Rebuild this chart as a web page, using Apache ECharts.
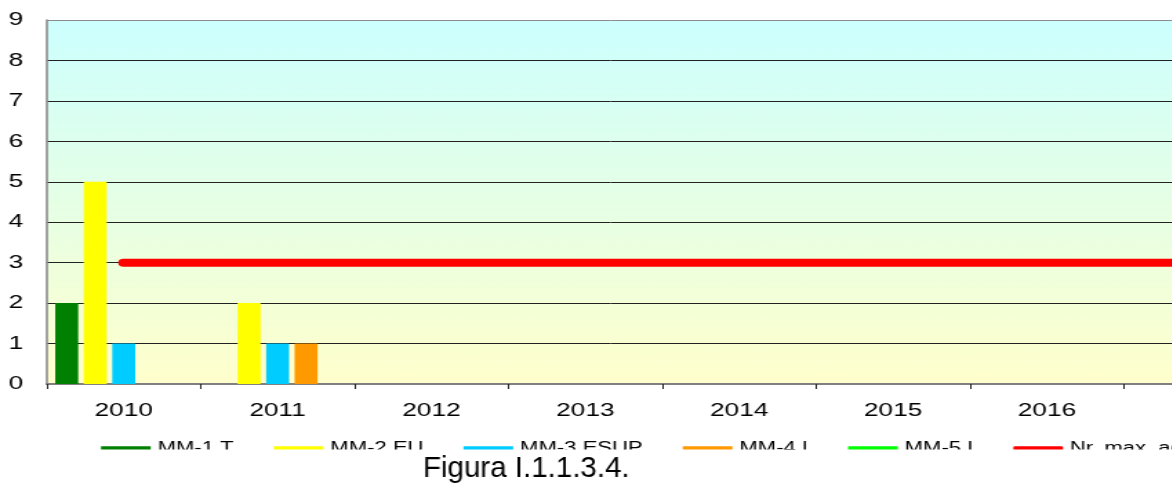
<!DOCTYPE html>
<html>
<head>
<meta charset="utf-8">
<script src="https://cdn.jsdelivr.net/npm/echarts@6/dist/echarts.min.js"></script>
<style>
  html, body { margin: 0; padding: 0; background: #fff; overflow: hidden; }
  #wrap { width: 1172px; height: 484px; overflow: hidden; position: relative; }
  /* the chart is laid out narrow and stretched sideways, like the original sheet */
  #chart { width: 850px; height: 484px; transform: scaleX(1.38); transform-origin: 0 0; }
</style>
</head>
<body>
<div id="wrap"><div id="chart"></div></div>
<script>
const SX = 1.38;
const FONT = '"Liberation Sans", Arial, sans-serif';

const years = ['2010', '2011', '2012', '2013', '2014', '2015', '2016', '2017'];
const mm1T    = [2, 0, 0, 0, 0, 0, 0, 0];
const mm2EU   = [5, 2, 0, 0, 0, 0, 0, 0];
const mm3ESUP = [1, 1, 0, 0, 0, 0, 0, 0];
const mm4I    = [0, 1, 0, 0, 0, 0, 0, 0];
const mm5I    = [0, 0, 0, 0, 0, 0, 0, 0];
const nrMax   = [3, 3, 3, 3, 3, 3, 3, 3];
const yTicks  = [0, 1, 2, 3, 4, 5, 6, 7, 8, 9];

const seriesDefs = [
  { name: 'MM-1 T',    data: mm1T,    color: '#008000' },
  { name: 'MM-2 EU',   data: mm2EU,   color: '#ffff00' },
  { name: 'MM-3 ESUP', data: mm3ESUP, color: '#00ccff' },
  { name: 'MM-4 I',    data: mm4I,    color: '#ff9900' },
  { name: 'MM-5 I',    data: mm5I,    color: '#00ff00' }
];
const lineName = 'Nr. max. admis';

const chart = echarts.init(document.getElementById('chart'), null, { renderer: 'canvas' });

const bars = seriesDefs.map(d => ({
  type: 'bar',
  name: d.name,
  data: d.data,
  itemStyle: { color: d.color },
  barGap: '24%',
  barCategoryGap: '11%'
}));

const legendData = seriesDefs.map(d => ({ name: d.name, icon: 'rect' }))
  .concat([{ name: lineName, icon: 'roundRect' }]);

const gridLineColors = yTicks.map((v, i) => i === yTicks.length - 1 ? '#8c8c8c' : '#222');

chart.setOption({
  animation: false,
  backgroundColor: '#fff',
  grid: {
    left: 33.9, top: 20, width: 892, bottom: 100,
    outerBoundsMode: 'none',
    containLabel: false,
    show: true, borderWidth: 0,
    backgroundColor: new echarts.graphic.LinearGradient(0, 0, 0, 1, [
      { offset: 0, color: '#ccffff' },
      { offset: 1, color: '#ffffcc' }
    ])
  },
  legend: {
    left: 73.2, top: 440.5, width: 1100, padding: 0,
    orient: 'horizontal',
    itemGap: 29, itemWidth: 36, itemHeight: 4.5,
    selectedMode: false,
    data: legendData,
    textStyle: { fontFamily: FONT, fontSize: 16, color: '#000' }
  },
  xAxis: {
    type: 'category',
    data: years,
    axisLine: { lineStyle: { color: '#808080', width: 2 } },
    axisTick: { show: true, length: 5, lineStyle: { color: '#222', width: 1 } },
    axisLabel: { fontFamily: FONT, fontSize: 19, color: '#000', margin: 17 },
    splitLine: { show: false }
  },
  yAxis: {
    type: 'value',
    min: yTicks[0], max: yTicks[yTicks.length - 1], interval: 1,
    axisLine: { show: true, lineStyle: { color: '#8c8c8c', width: 1.6 } },
    axisTick: { show: false },
    axisLabel: { fontFamily: FONT, fontSize: 19, color: '#000', margin: 17 },
    splitLine: { show: true, lineStyle: { color: gridLineColors, width: 1 } }
  },
  series: bars.concat([{
    type: 'line',
    name: lineName,
    data: nrMax,
    showSymbol: false,
    symbol: 'none',
    lineStyle: { color: '#ff0000', width: 8, cap: 'round' },
    itemStyle: { color: '#ff0000' },
    z: 5
  }]),
  graphic: [
    { type: 'rect', x: 0, y: 449.5, shape: { width: 850, height: 40 }, style: { fill: '#fff' }, z: 100, silent: true },
    { type: 'text', x: 423 / SX, y: 469, scaleX: 1 / SX, z: 101, silent: true,
      style: { text: 'Figura I.1.1.3.4.', font: '29.5px ' + FONT, fill: '#000', verticalAlign: 'middle', align: 'left' } }
  ]
});
</script>
</body>
</html>
